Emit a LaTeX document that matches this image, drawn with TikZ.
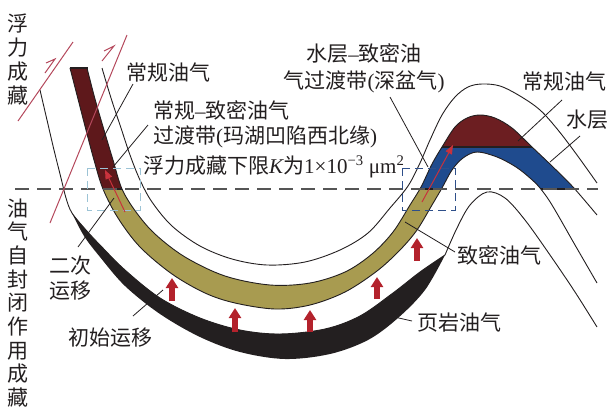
\documentclass[tikz,border=0pt]{standalone}
\usepackage{fontspec}
\setmainfont{Liberation Serif}
\newfontfamily\cjk{Noto Sans CJK SC}
\usetikzlibrary{arrows.meta}
\definecolor{txt}{HTML}{231F20}
\definecolor{maroonL}{HTML}{5E181B}
\definecolor{maroonR}{HTML}{6C1E21}
\definecolor{khakic}{HTML}{A89B50}
\definecolor{waterblue}{HTML}{1F4B8E}
\definecolor{shalec}{HTML}{231F20}
\definecolor{arrred}{HTML}{B3222C}
\definecolor{faultred}{HTML}{B4485C}
\definecolor{migred}{HTML}{C8323C}
\definecolor{boxL}{HTML}{9CC3D5}
\definecolor{boxR}{HTML}{2E4F8A}
\definecolor{dashgray}{HTML}{555555}
\newcommand\bandpath{plot[smooth,tension=0.55] coordinates {(87,68) (95,99) (104,130) (113,160) (122,189) (136,212) (155,234) (185,257) (225,276) (270,285) (310,283) (345,272) (372,254) (393,232) (410,205) (421,187) (432,164) (442,147) (455,127) (467,118) (480,115) (495,118) (512,128) (532,147) (552,166) (573,187) (597,215)} -- plot[smooth,tension=0.55] coordinates {(597,283) (575,245) (552,205) (540,188) (530,178) (516,167) (497,157) (477,152) (463,158) (452,170) (442,188) (432,205) (417,230) (400,250) (377,271) (345,292) (310,305) (275,309) (235,303) (205,293) (172,274) (140,247) (118,218) (103,189) (94,160) (86,130) (78,99) (70,68)} -- cycle}
\tikzset{
  geo/.style={line width=0.9pt, draw=txt},
  edge/.style={line width=1.4pt, draw=txt},
  lbl/.style={font=\cjk\fontsize{21pt}{25pt}\selectfont, text=txt, inner sep=0pt, anchor=base west},
  lblc/.style={lbl, anchor=base},
  leader/.style={line width=0.8pt, draw=txt},
  fault/.style={line width=1pt, draw=faultred},
  migarr/.style={line width=1pt, draw=migred, -{Triangle[length=9pt,width=7pt]}},
  primarr/.style={line width=5.5pt, draw=arrred, -{Triangle[length=10pt,width=12pt]}},
  boxdash/.style={line width=1pt, dash pattern=on 8pt off 5pt}
}
\begin{document}
\begin{tikzpicture}[x=1pt,y=-1pt]
\useasboundingbox (0,0) rectangle (607,407);
% ---- fills of the reservoir band ----
\begin{scope}
  \clip (0,189) rectangle (470,407);
  \fill[khakic] \bandpath;
\end{scope}
\begin{scope}
  \clip (0,0) rectangle (300,189);
  \fill[maroonL] \bandpath;
\end{scope}
\begin{scope}
  \clip (380,147) rectangle (607,189);
  \fill[waterblue] \bandpath;
\end{scope}
\begin{scope}
  \clip (380,0) rectangle (607,147);
  \fill[maroonR] \bandpath;
\end{scope}
% ---- shale crescent ----
\fill[shalec] plot[smooth,tension=0.55] coordinates {(72,213) (86,230) (100,245) (125,270) (160,298) (200,318) (240,330) (280,334) (325,329) (360,316) (393,293) (420,272) (445,255)}
  -- plot[smooth,tension=0.55] coordinates {(445,255) (425,290) (398,318) (368,340) (330,354) (285,359) (240,352) (200,337) (160,314) (125,286) (100,257) (84,236) (72,213)} -- cycle;
% ---- strata lines ----
\draw[geo] plot[smooth,tension=0.55] coordinates {(102,68) (111,98) (121,128) (130,155) (140,180) (152,202) (172,226) (200,246) (232,259) (267,265) (305,262) (340,250) (368,233) (390,208) (408,186) (420,163) (430,140) (442,115) (455,97) (468,87) (482,84) (500,86) (520,96) (540,110) (558,130) (577,155) (597,183)};
\draw[geo] plot[smooth,tension=0.55] coordinates {(87,68) (95,99) (104,130) (113,160) (122,189) (136,212) (155,234) (185,257) (225,276) (270,285) (310,283) (345,272) (372,254) (393,232) (410,205) (421,187) (432,164) (442,147) (455,127) (467,118) (480,115) (495,118) (512,128) (532,147) (552,166) (573,187) (597,215)};
\draw[geo] plot[smooth,tension=0.55] coordinates {(70,68) (78,99) (86,130) (94,160) (103,189) (118,218) (140,247) (172,274) (205,293) (235,303) (275,309) (310,305) (345,292) (377,271) (400,250) (417,230) (432,205) (442,188) (452,170) (463,158) (477,152) (497,157) (516,167) (530,178) (540,188) (552,205) (575,245) (597,283)};
\draw[geo] plot[smooth,tension=0.55] coordinates {(40,90) (47,120) (54,150) (61,178) (66,198) (72,213) (86,230) (100,245) (125,270) (160,298) (200,318) (240,330) (280,334) (325,329) (360,316) (393,293) (420,272) (445,255)};
\draw[geo] plot[smooth,tension=0.55] coordinates {(445,255) (457,228) (470,205) (487,192) (505,198) (525,220) (550,255) (575,292) (597,327)};
% ---- band boundaries ----
\begin{scope}
  \clip \bandpath;
  \draw[edge] (0,189) -- (607,189);
  \draw[edge] (380,147) -- (607,147);
\end{scope}
\draw[edge] (69.5,68) -- (87.5,68);
% ---- dashed level line ----
\draw[dashgray, line width=1.3pt, dash pattern=on 14pt off 8pt] (15,189) -- (598,189);
% ---- dashed boxes ----
\draw[boxdash, draw=boxL] (87,168) rectangle (140,210);
\draw[boxdash, draw=boxR] (402,168) rectangle (455,210);
% ---- buoyancy lines and half arrows ----
\draw[fault] (18,121) -- (73,42);
\draw[fault] (50,223) -- (127,35);
\draw[fault] (45,73) -- (55,59) -- (46,63);
\draw[fault] (102,61) -- (114,46) -- (104,51);
% ---- secondary migration arrows ----
\draw[migarr] (125,212) -- (105,170);
\draw[migarr] (422,202) -- (453,145);
% ---- primary migration arrows ----
\draw[primarr] (172,301) -- (172,278);
\draw[primarr] (235,332) -- (235,308);
\draw[primarr] (310,332) -- (310,310);
\draw[primarr] (377,299) -- (377,277);
\draw[primarr] (417,261) -- (417,238);
% ---- labels ----
\node[lbl] (lconvL) at (126,80) {常规油气};
\node[lbl] (ltransA) at (153,118) {常规{\rmfamily –}致密油气};
\node[lbl] (ltransB) at (153,143) {过渡带{\rmfamily (}玛湖凹陷西北缘{\rmfamily )}};
\node[lbl] (lbuoy) at (143,173) {浮力成藏下限{\rmfamily\itshape K}为{\rmfamily 1×10\textsuperscript{−3} μm\textsuperscript{2}}};
\node[lblc] (lwaterA) at (364,61) {水层{\rmfamily –}致密油};
\node[lblc] (lwaterB) at (364,88) {气过渡带{\rmfamily (}深盆气{\rmfamily )}};
\node[lbl] (lconvR) at (522,89) {常规油气};
\node[lbl] (lwater) at (566,127) {水层};
\node[lbl] (ltight) at (457,263) {致密油气};
\node[lbl] (lshale) at (417,330) {页岩油气};
\node[lbl] (lprim) at (68,345) {初始运移};
\node[lbl] (lsecA) at (49,273) {二次};
\node[lbl] (lsecB) at (49,298) {运移};
\foreach \c [count=\i] in {浮,力,成,藏}
  \node[lblc] (vt\i) at (18,{31+(\i-1)*24}) {\c};
\foreach \c [count=\i] in {油,气,自,封,闭,作,用,成,藏}
  \node[lblc] (vb\i) at (18,{216+(\i-1)*23.7}) {\c};
% ---- leader lines ----
\coordinate (a1) at (133,84);  \coordinate (b1) at (102,140);
\coordinate (a2) at (148,125); \coordinate (b2) at (113,167);
\coordinate (a3) at (114,198); \coordinate (b3) at (78,247);
\coordinate (a4) at (133,316); \coordinate (b4) at (163,290);
\coordinate (a5) at (390,316); \coordinate (b5) at (412,321);
\coordinate (a6) at (405,222); \coordinate (b6) at (455,252);
\coordinate (a7) at (390,97);  \coordinate (b7) at (428,167);
\coordinate (a8) at (562,100); \coordinate (b8) at (518,141);
\coordinate (a9) at (580,136); \coordinate (b9) at (550,162);
\foreach \k in {1,...,9} \draw[leader] (a\k) -- (b\k);
\end{tikzpicture}
\end{document}
